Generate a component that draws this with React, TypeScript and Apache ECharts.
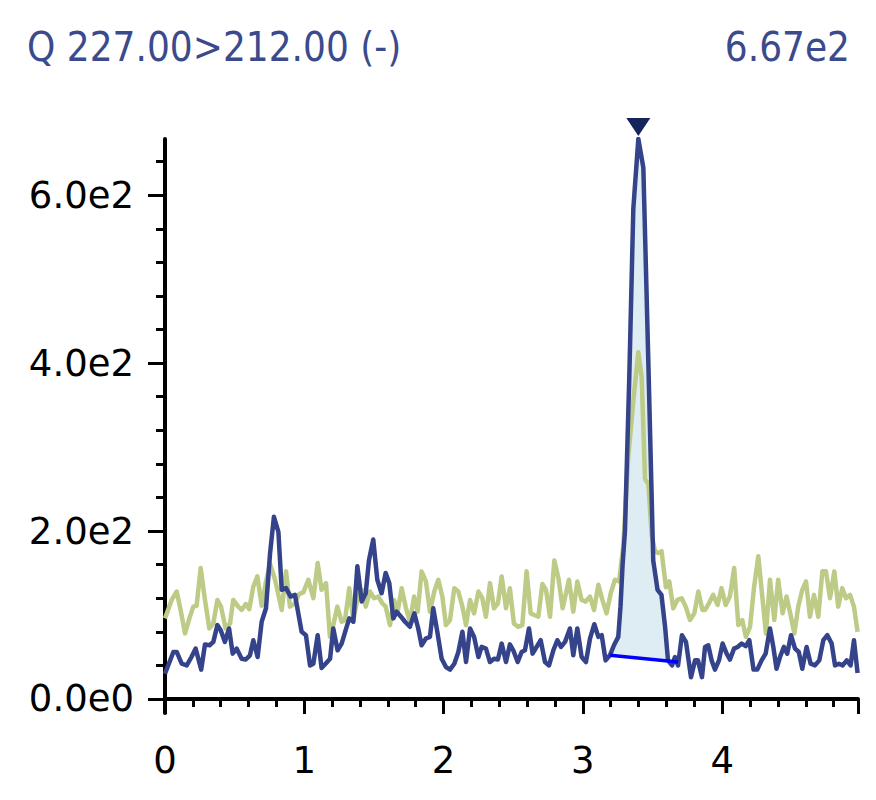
import { useEffect, useRef } from "react";
import * as echarts from "echarts";

// ---------- text ----------
const titleText = "Q 227.00>212.00 (-)";

// ---------- axes ----------
const X_MIN = 0;
const X_MAX = 4.975;
const Y_MIN = -16.7;
const xMajorTicks = [0, 1, 2, 3, 4];
const xMinorTicks = [0.2, 0.4, 0.6, 0.8, 1.2, 1.4, 1.6, 1.8, 2.2, 2.4, 2.6, 2.8, 3.2, 3.4, 3.6, 3.8, 4.2, 4.4, 4.6, 4.8];
const yMajorTicks = [0, 200, 400, 600];
const yMinorTicks = [40, 80, 120, 160, 240, 280, 320, 360, 440, 480, 520, 560, 640];

// ---------- series (time [min], intensity) ----------
const blueTrace: [number, number][] = [
  [0, 30], [0.06, 56], [0.084, 56], [0.12, 42], [0.156, 40], [0.19, 50], [0.22, 60], [0.26, 35], [0.287, 65], [0.32, 64],
  [0.347, 68], [0.376, 88], [0.4, 82], [0.43, 68], [0.46, 84], [0.486, 54], [0.514, 60], [0.55, 48], [0.58, 47], [0.61, 52],
  [0.634, 70], [0.665, 50], [0.694, 92], [0.725, 108], [0.754, 173], [0.782, 217], [0.814, 199], [0.838, 130], [0.869, 132], [0.902, 122],
  [0.933, 124], [0.957, 102], [0.981, 80], [1.012, 76], [1.041, 40], [1.065, 42], [1.096, 76], [1.124, 37], [1.153, 42], [1.185, 48],
  [1.208, 84], [1.239, 58], [1.268, 66], [1.297, 82], [1.323, 96], [1.352, 92], [1.381, 158], [1.412, 116], [1.441, 126], [1.464, 165],
  [1.495, 190], [1.524, 142], [1.555, 126], [1.584, 150], [1.61, 138], [1.639, 96], [1.663, 104], [1.694, 98], [1.723, 92], [1.758, 86],
  [1.79, 102], [1.818, 84], [1.842, 64], [1.873, 72], [1.902, 74], [1.926, 108], [1.955, 80], [1.986, 48], [2.017, 38], [2.046, 35],
  [2.077, 42], [2.106, 56], [2.135, 80], [2.161, 44], [2.19, 84], [2.219, 74], [2.25, 50], [2.273, 62], [2.304, 60], [2.333, 44],
  [2.362, 48], [2.39, 47], [2.417, 66], [2.448, 44], [2.476, 65], [2.5, 58], [2.532, 44], [2.56, 56], [2.584, 58], [2.613, 84],
  [2.639, 54], [2.668, 62], [2.697, 70], [2.728, 44], [2.757, 40], [2.788, 58], [2.817, 70], [2.843, 62], [2.872, 68], [2.907, 84],
  [2.931, 52], [2.96, 84], [2.991, 50], [3.022, 44], [3.051, 72], [3.082, 89], [3.111, 74], [3.135, 76], [3.163, 46], [3.194, 52],
  [3.223, 64], [3.254, 74], [3.27, 110], [3.285, 160], [3.302, 200], [3.333, 383], [3.362, 584], [3.398, 667], [3.434, 633], [3.47, 400],
  [3.505, 165], [3.536, 130], [3.564, 124], [3.59, 86], [3.611, 46], [3.64, 40], [3.661, 50], [3.683, 40], [3.711, 76], [3.74, 68],
  [3.776, 26], [3.805, 46], [3.826, 46], [3.855, 26], [3.877, 62], [3.9, 64], [3.924, 46], [3.948, 35], [3.977, 46], [4.003, 66],
  [4.032, 54], [4.056, 47], [4.085, 60], [4.111, 62], [4.14, 66], [4.169, 63], [4.195, 70], [4.225, 35], [4.252, 35], [4.283, 46],
  [4.312, 54], [4.343, 84], [4.367, 62], [4.39, 36], [4.415, 50], [4.443, 62], [4.467, 54], [4.494, 76], [4.523, 60], [4.55, 56],
  [4.575, 36], [4.606, 62], [4.635, 42], [4.666, 40], [4.697, 46], [4.726, 70], [4.755, 76], [4.786, 66], [4.81, 40], [4.838, 42],
  [4.865, 40], [4.894, 46], [4.922, 40], [4.946, 70], [4.972, 31],
];

const greenTrace: [number, number][] = [
  [0, 96], [0.048, 118], [0.084, 128], [0.112, 106], [0.144, 78], [0.175, 96], [0.203, 110], [0.227, 111], [0.256, 156], [0.287, 118],
  [0.318, 84], [0.347, 90], [0.376, 118], [0.402, 110], [0.435, 84], [0.467, 90], [0.49, 118], [0.526, 110], [0.55, 106], [0.58, 113],
  [0.605, 107], [0.634, 134], [0.663, 146], [0.694, 111], [0.725, 140], [0.754, 161], [0.79, 142], [0.838, 106], [0.869, 152], [0.897, 110],
  [0.933, 114], [0.962, 125], [0.993, 127], [1.029, 142], [1.065, 120], [1.096, 162], [1.124, 130], [1.156, 138], [1.184, 74], [1.208, 88],
  [1.237, 110], [1.268, 92], [1.292, 94], [1.323, 132], [1.352, 94], [1.381, 118], [1.412, 130], [1.441, 110], [1.472, 128], [1.5, 120],
  [1.531, 122], [1.56, 114], [1.584, 110], [1.615, 88], [1.644, 118], [1.67, 104], [1.699, 132], [1.73, 108], [1.759, 92], [1.788, 122],
  [1.814, 104], [1.842, 152], [1.873, 140], [1.902, 104], [1.933, 128], [1.962, 142], [1.991, 122], [2.017, 88], [2.046, 94], [2.077, 132],
  [2.106, 128], [2.135, 110], [2.161, 88], [2.19, 118], [2.219, 102], [2.25, 128], [2.278, 120], [2.304, 98], [2.333, 138], [2.362, 108],
  [2.39, 114], [2.417, 146], [2.448, 108], [2.476, 132], [2.505, 90], [2.534, 86], [2.565, 88], [2.596, 152], [2.625, 102], [2.651, 100],
  [2.68, 98], [2.709, 137], [2.735, 130], [2.764, 98], [2.795, 165], [2.824, 144], [2.855, 108], [2.9, 142], [2.931, 104], [2.96, 140],
  [2.991, 118], [3.02, 116], [3.051, 122], [3.08, 106], [3.111, 136], [3.14, 118], [3.17, 102], [3.2, 126], [3.23, 142], [3.26, 140],
  [3.29, 182], [3.326, 289], [3.362, 355], [3.398, 413], [3.422, 383], [3.446, 262], [3.47, 256], [3.494, 195], [3.518, 176], [3.541, 174],
  [3.565, 176], [3.596, 133], [3.62, 140], [3.649, 108], [3.678, 118], [3.709, 120], [3.738, 110], [3.769, 94], [3.8, 102], [3.829, 128],
  [3.858, 106], [3.877, 106], [3.905, 114], [3.935, 124], [3.967, 112], [3.995, 132], [4.025, 112], [4.055, 122], [4.086, 156], [4.116, 88],
  [4.144, 94], [4.17, 74], [4.2, 86], [4.228, 132], [4.259, 170], [4.288, 122], [4.314, 78], [4.343, 142], [4.374, 94], [4.402, 142],
  [4.434, 102], [4.462, 122], [4.491, 100], [4.518, 78], [4.546, 110], [4.575, 130], [4.602, 140], [4.63, 98], [4.659, 124], [4.69, 98],
  [4.719, 152], [4.745, 152], [4.774, 120], [4.805, 152], [4.833, 110], [4.862, 132], [4.889, 120], [4.918, 124], [4.946, 110], [4.972, 80],
];

// integration baseline of the peak (start, end)
const peakBaseline: [number, number][] = [[3.194, 52], [3.683, 44]];

// ---------- styles ----------
const FONT = "DejaVu Sans";
const TITLE_COLOR = "#3a4a8c";
const BLUE = "#34438a";
const GREEN = "#bccb86";
const FILL = "#deecf3";
const BASELINE = "#0000ff";
const MARKER = "#15245a";

function sci(v: number, digits: number): string {
  if (v === 0) return (0).toFixed(digits) + "e0";
  const e = Math.floor(Math.log10(Math.abs(v)));
  const m = v / Math.pow(10, e);
  return m.toFixed(digits) + "e" + e;
}

export default function App() {
  const ref = useRef<HTMLDivElement>(null);

  useEffect(() => {
    if (!ref.current) return;
    const chart = echarts.init(ref.current, undefined, { renderer: "svg" });

    const peak = blueTrace.reduce((a, b) => (b[1] > a[1] ? b : a));
    const Y_MAX = peak[1];
    const peakArea: [number, number][] = [
      peakBaseline[0],
      ...blueTrace.filter((p) => p[0] > peakBaseline[0][0] && p[0] < peakBaseline[1][0]),
      peakBaseline[1],
    ];

    const option: any = {
      animation: false,
      grid: { left: 165, top: 139, width: 693, height: 574, containLabel: false, outerBoundsMode: "none" },
      graphic: [
        {
          type: "text",
          x: 27,
          y: 47,
          scaleX: 0.9,
          style: { text: titleText, fontSize: 40, fontFamily: FONT, fill: TITLE_COLOR, align: "left", verticalAlign: "middle" },
        },
        {
          type: "text",
          x: 850,
          y: 47,
          scaleX: 0.9,
          style: { text: sci(Y_MAX, 2), fontSize: 40, fontFamily: FONT, fill: TITLE_COLOR, align: "right", verticalAlign: "middle" },
        },
      ],
      xAxis: [
        {
          type: "value",
          min: X_MIN,
          max: X_MAX,
          position: "bottom",
          axisLine: { show: true, lineStyle: { color: "#000", width: 4 } },
          axisTick: { show: true, customValues: [...xMajorTicks, X_MAX], length: 15, lineStyle: { color: "#000", width: 3 } },
          axisLabel: {
            show: true,
            customValues: xMajorTicks,
            formatter: (v: number) => String(v),
            fontSize: 37,
            fontFamily: FONT,
            color: "#000",
            margin: 29,
          },
          splitLine: { show: false },
        },
        {
          type: "value",
          min: X_MIN,
          max: X_MAX,
          position: "bottom",
          offset: 0,
          axisLine: { show: false },
          axisTick: { show: true, customValues: xMinorTicks, length: 8, lineStyle: { color: "#000", width: 3 } },
          axisLabel: { show: false },
          splitLine: { show: false },
        },
      ],
      yAxis: [
        {
          type: "value",
          min: Y_MIN,
          max: Y_MAX,
          position: "left",
          axisLine: { show: true, lineStyle: { color: "#000", width: 4 } },
          axisTick: { show: true, customValues: yMajorTicks, length: 17, lineStyle: { color: "#000", width: 3 } },
          axisLabel: {
            show: true,
            customValues: yMajorTicks,
            formatter: (v: number) => sci(v, 1),
            fontSize: 37,
            fontFamily: FONT,
            color: "#000",
            margin: 31,
          },
          splitLine: { show: false },
        },
        {
          type: "value",
          min: Y_MIN,
          max: Y_MAX,
          position: "left",
          offset: 0,
          axisLine: { show: false },
          axisTick: { show: true, customValues: yMinorTicks, length: 9, lineStyle: { color: "#000", width: 3 } },
          axisLabel: { show: false },
          splitLine: { show: false },
        },
      ],
      series: [
        {
          type: "custom",
          name: "peak area",
          xAxisIndex: 0,
          yAxisIndex: 0,
          data: peakArea,
          encode: { x: 0, y: 1 },
          z: 1,
          renderItem: (params: any, api: any) => {
            if (params.dataIndex !== 0) return null;
            const pts = peakArea.map((p) => api.coord(p));
            return { type: "polygon", shape: { points: pts }, style: { fill: FILL, stroke: "none" } };
          },
        },
        {
          type: "line",
          name: "qualifier",
          data: greenTrace,
          showSymbol: false,
          symbol: "none",
          z: 2,
          lineStyle: { color: GREEN, width: 4.5, join: "round" },
        },
        {
          type: "line",
          name: "quantifier",
          data: blueTrace,
          showSymbol: false,
          symbol: "none",
          z: 3,
          lineStyle: { color: BLUE, width: 4.5, join: "round" },
        },
        {
          type: "line",
          name: "baseline",
          data: peakBaseline,
          showSymbol: false,
          symbol: "none",
          z: 4,
          lineStyle: { color: BASELINE, width: 3.5 },
        },
        {
          type: "scatter",
          name: "apex",
          data: [peak],
          symbol: "triangle",
          symbolRotate: 180,
          symbolSize: [24, 18],
          symbolOffset: [0, -12],
          z: 5,
          itemStyle: { color: MARKER, opacity: 1 },
          clip: false,
        },
      ],
    };

    chart.setOption(option);
    return () => chart.dispose();
  }, []);

  return <div ref={ref} style={{ position: "absolute", left: 0, top: 0, width: 876, height: 800 }} />;
}
